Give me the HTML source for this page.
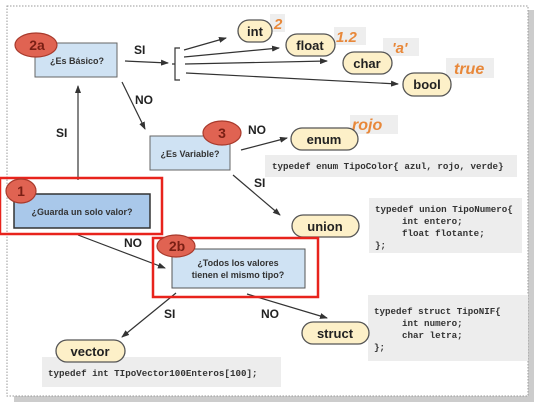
<!DOCTYPE html>
<html><head><meta charset="utf-8"><style>
html,body{margin:0;padding:0;background:#fff;}
svg{display:block;}
.t{font-family:"Liberation Sans",sans-serif;font-weight:bold;}
.m{font-family:"Liberation Mono",monospace;font-weight:bold;font-size:9.2px;fill:#333;}
</style></head><body>
<svg width="544" height="407" viewBox="0 0 544 407" xmlns="http://www.w3.org/2000/svg">
<defs><marker id="a" markerWidth="8" markerHeight="6" refX="7" refY="3" orient="auto" markerUnits="userSpaceOnUse"><path d="M0,0 L8,3 L0,6 z" fill="#333"/></marker></defs>
<rect x="528" y="10" width="6" height="392" fill="#ccc"/>
<rect x="14" y="396" width="520" height="6" fill="#ccc"/>
<rect x="7" y="6" width="521" height="390" fill="#fff" stroke="#999" stroke-dasharray="1.5,1.5"/>
<g stroke="#333" stroke-width="1.2" fill="none">
<line x1="125" y1="61" x2="168" y2="63" marker-end="url(#a)"/>
<path d="M180,48 L175,48 L175,80 L180,80 M172,64 L175,64"/>
<line x1="184" y1="50" x2="226" y2="38" marker-end="url(#a)"/>
<line x1="184" y1="57" x2="279" y2="48" marker-end="url(#a)"/>
<line x1="185" y1="64" x2="327" y2="61" marker-end="url(#a)"/>
<line x1="186" y1="73" x2="398" y2="84" marker-end="url(#a)"/>
<line x1="122" y1="82" x2="145" y2="129" marker-end="url(#a)"/>
<line x1="241" y1="150" x2="287" y2="138" marker-end="url(#a)"/>
<line x1="233" y1="175" x2="280" y2="215" marker-end="url(#a)"/>
<line x1="78" y1="180" x2="78" y2="86" marker-end="url(#a)"/>
<line x1="78" y1="235" x2="165" y2="268" marker-end="url(#a)"/>
<line x1="176" y1="293" x2="122" y2="337" marker-end="url(#a)"/>
<line x1="247" y1="294" x2="327" y2="318" marker-end="url(#a)"/>
</g>
<rect x="265" y="155" width="252" height="22" fill="#ededed"/>
<text class="m" x="272" y="169">typedef enum TipoColor{ azul, rojo, verde}</text>
<rect x="369" y="198" width="153" height="55" fill="#ededed"/>
<text class="m" x="375" y="212">typedef union TipoNumero{</text>
<text class="m" x="402" y="224">int entero;</text>
<text class="m" x="402" y="236">float flotante;</text>
<text class="m" x="375" y="248">};</text>
<rect x="368" y="295" width="160" height="66" fill="#ededed"/>
<text class="m" x="374" y="314">typedef struct TipoNIF{</text>
<text class="m" x="402" y="326">int numero;</text>
<text class="m" x="402" y="338">char letra;</text>
<text class="m" x="374" y="350">};</text>
<rect x="42" y="357" width="239" height="30" fill="#ededed"/>
<text class="m" x="48" y="376">typedef int TIpoVector100Enteros[100];</text>
<g class="t" font-style="italic" fill="#e8883a">
<rect x="270" y="14" width="15" height="18" fill="#eee"/><text x="274" y="29" font-size="15" fill="#e8883a">2</text>
<rect x="334" y="27" width="32" height="18" fill="#eee"/><text x="336" y="42" font-size="15" fill="#e8883a">1.2</text>
<rect x="383" y="38" width="36" height="18" fill="#eee"/><text x="392" y="53" font-size="15" fill="#e8883a">'a'</text>
<rect x="446" y="58" width="48" height="20" fill="#eee"/><text x="454" y="74" font-size="16" fill="#e8883a">true</text>
<rect x="350" y="115" width="48" height="19" fill="#eee"/><text x="352" y="130" font-size="16" fill="#e8883a">rojo</text>
</g>
<g stroke="#555" stroke-width="1.3" fill="#fdf0c8">
<rect x="238" y="20" width="34" height="22" rx="11"/>
<rect x="286" y="34" width="49" height="22" rx="11"/>
<rect x="343" y="52" width="49" height="22" rx="11"/>
<rect x="403" y="73" width="48" height="23" rx="11"/>
<rect x="291" y="128" width="67" height="22" rx="11"/>
<rect x="292" y="215" width="67" height="22" rx="11"/>
<rect x="302" y="322" width="67" height="22" rx="11"/>
<rect x="56" y="340" width="69" height="22" rx="11"/>
</g>
<g class="t" font-size="13" fill="#222" text-anchor="middle">
<text x="255" y="36">int</text><text x="310" y="50">float</text><text x="367" y="68">char</text>
<text x="427" y="89">bool</text><text x="324" y="144">enum</text><text x="325" y="231">union</text>
<text x="335" y="338">struct</text><text x="90" y="356">vector</text>
</g>
<rect x="35" y="43" width="82" height="34" fill="#cfe2f3" stroke="#666"/>
<rect x="150" y="136" width="80" height="34" fill="#cfe2f3" stroke="#666"/>
<rect x="0" y="178" width="162" height="56" fill="none" stroke="#e8231c" stroke-width="2.5"/>
<rect x="14" y="194" width="136" height="34" fill="#a9c8ea" stroke="#333" stroke-width="1.5"/>
<rect x="153" y="238" width="165" height="59" fill="none" stroke="#e8231c" stroke-width="2.5"/>
<rect x="172" y="249" width="133" height="39" fill="#cfe2f3" stroke="#555"/>
<g class="t" font-size="9" fill="#333" text-anchor="middle">
<text x="77" y="64">¿Es Básico?</text>
<text x="190" y="157">¿Es Variable?</text>
<text x="82" y="215">¿Guarda un solo valor?</text>
<text x="238" y="266">¿Todos los valores</text>
<text x="238" y="278">tienen el mismo tipo?</text>
</g>
<g fill="#e06352" stroke="#a83a2c" stroke-width="1.2">
<ellipse cx="36" cy="45" rx="21" ry="12"/>
<ellipse cx="222" cy="133" rx="19" ry="12"/>
<ellipse cx="21" cy="191" rx="15" ry="12"/>
<ellipse cx="176" cy="246" rx="19" ry="11"/>
</g>
<g class="t" font-size="14" fill="#7a1f14" text-anchor="middle" font-weight="normal">
<text x="37" y="50">2a</text><text x="222" y="138">3</text><text x="21" y="196">1</text><text x="177" y="251">2b</text>
</g>
<g class="t" font-size="12" fill="#222">
<text x="134" y="54">SI</text><text x="135" y="104">NO</text>
<text x="248" y="134">NO</text><text x="254" y="187">SI</text>
<text x="56" y="137">SI</text><text x="124" y="247">NO</text>
<text x="164" y="318">SI</text><text x="261" y="318">NO</text>
</g>
</svg>
</body></html>
